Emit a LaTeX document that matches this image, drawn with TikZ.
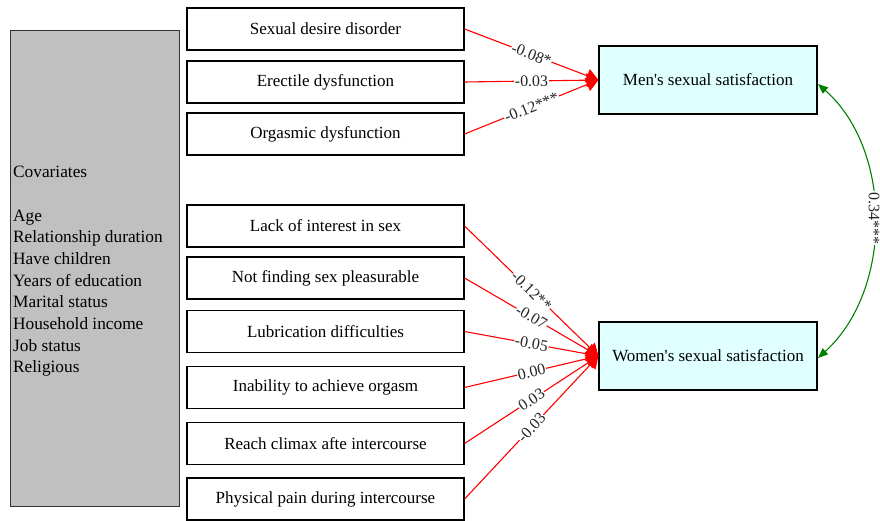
\documentclass[tikz,border=0pt]{standalone}
\usepackage{fontspec}
\setmainfont{Liberation Serif}
\newfontfamily\tnr{Liberation Serif}
\usetikzlibrary{arrows.meta}
\definecolor{covgray}{HTML}{C0C0C0}
\definecolor{lcyan}{HTML}{E0FFFF}
\definecolor{edgegreen}{HTML}{008000}
\tikzset{
  predbox/.style={draw=black, line width=1.1pt, fill=white, minimum width=277pt, minimum height=42pt, inner sep=0pt, font=\tnr\fontsize{17}{18}\selectfont},
  outbox/.style={draw=black, line width=1.1pt, fill=lcyan, minimum width=218pt, minimum height=68pt, inner sep=0pt, font=\tnr\fontsize{17}{18}\selectfont},
  covbox/.style={draw=black!80, line width=0.8pt, fill=covgray, minimum width=169pt, minimum height=476pt, inner sep=0pt},
  redarrow/.style={draw=red, line width=1.1pt, -{Triangle[length=12pt,width=14pt]}, red},
  coef/.style={fill=white, inner sep=0.6pt, sloped, font=\tnr\fontsize{16}{17}\selectfont, text=black!85},
  greenarrow/.style={draw=edgegreen, line width=1.1pt, {Triangle[length=10pt,width=8pt]}-{Triangle[length=10pt,width=8pt]}, edgegreen}
}
\begin{document}
\begin{tikzpicture}[x=1pt,y=-1pt]
\useasboundingbox (0,0) rectangle (880,520);
% covariates box
\node[covbox] (cov) at (94.5,268) {};
\node[anchor=north west, align=left, inner sep=0pt, font=\tnr\fontsize{17.3}{21.7}\selectfont] (covtext) at (13,166) {Covariates\\[21.7pt]Age\\Relationship duration\\Have children\\Years of education\\Marital status\\Household income\\Job status\\Religious};
% predictor boxes
\node[predbox] (p1) at (325.5,29) {Sexual desire disorder};
\node[predbox] (p2) at (325.5,82) {Erectile dysfunction};
\node[predbox] (p3) at (325.5,134) {Orgasmic dysfunction};
\node[predbox] (p4) at (325.5,226) {Lack of interest in sex};
\node[predbox] (p5) at (325.5,278) {Not finding sex pleasurable};
\node[predbox] (p6) at (325.5,331.5) {Lubrication difficulties};
\node[predbox] (p7) at (325.5,387.5) {Inability to achieve orgasm};
\node[predbox] (p8) at (325.5,443.5) {Reach climax afte intercourse};
\node[predbox] (p9) at (325.5,499) {Physical pain during intercourse};
% outcome boxes
\node[outbox] (men) at (708,80) {Men\textquotesingle s sexual satisfaction};
\node[outbox] (women) at (708,356) {Women\textquotesingle s sexual satisfaction};
% edges to men
\draw[redarrow] (p1.east) -- node[coef] {-0.08*} (men.west);
\draw[redarrow] (p2.east) -- node[coef] {-0.03} (men.west);
\draw[redarrow] (p3.east) -- node[coef] {-0.12***} (men.west);
% edges to women
\draw[redarrow] (p4.east) -- node[coef] {-0.12**} (women.west);
\draw[redarrow] (p5.east) -- node[coef] {-0.07} (women.west);
\draw[redarrow] (p6.east) -- node[coef] {-0.05} (women.west);
\draw[redarrow] (p7.east) -- node[coef] {0.00} (women.west);
\draw[redarrow] (p8.east) -- node[coef] {0.03} (women.west);
\draw[redarrow] (p9.east) -- node[coef] {-0.03} (women.west);
% correlation
\coordinate (mr) at (818,84);
\coordinate (wr) at (818,358);
\draw[greenarrow] (mr) .. controls (893,150) and (893,290) .. (wr);
\node[fill=white, inner sep=0.6pt, rotate=-90, font=\tnr\fontsize{16}{17}\selectfont, text=black!85] (corr) at (874,218) {0.34***};
\end{tikzpicture}
\end{document}
